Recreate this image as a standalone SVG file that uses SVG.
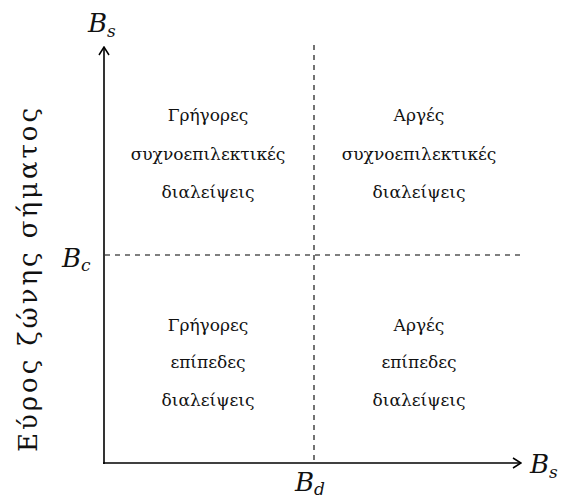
<svg xmlns="http://www.w3.org/2000/svg" width="565" height="500" viewBox="0 0 565 500">
  <style>
    .axis { stroke: #000; stroke-width: 1.6; fill: none; }
    .dash { stroke: #000; stroke-width: 1.1; stroke-dasharray: 5 5; fill: none; }
    text { font-family: 'DejaVu Serif', serif; fill: #111; }
    .lbl { font-size: 17px; text-anchor: middle; }
    .sym { font-style: italic; font-size: 26px; }
    .sub { font-size: 17px; }
    .ytitle { font-size: 26px; text-anchor: middle; }
  </style>
  <defs>
    <marker id="arrow" viewBox="0 0 10 12" refX="9" refY="6" markerWidth="10" markerHeight="12" markerUnits="userSpaceOnUse" orient="auto">
      <path d="M1,1 L9,6 L1,11" fill="none" stroke="#000" stroke-width="1.5"/>
    </marker>
  </defs>

  <!-- axes and threshold lines -->
  <g id="connectors">
    <line class="dash" x1="314" y1="45" x2="314" y2="462"/>
    <line class="dash" x1="105" y1="255" x2="525" y2="255"/>
    <line class="axis" x1="104" y1="464" x2="104" y2="47" marker-end="url(#arrow)"/>
    <line class="axis" x1="103" y1="463" x2="521" y2="463" marker-end="url(#arrow)"/>
  </g>

  <!-- axis symbols -->
  <g id="label-bs-top"><text class="sym" x="88" y="32">B<tspan class="sub" dy="5">s</tspan></text></g>
  <g id="label-bc"><text class="sym" x="62" y="267">B<tspan class="sub" dy="4">c</tspan></text></g>
  <g id="label-bd"><text class="sym" x="295" y="491">B<tspan class="sub" dy="4">d</tspan></text></g>
  <g id="label-bs-right"><text class="sym" x="530" y="473">B<tspan class="sub" dy="5">s</tspan></text></g>

  <!-- vertical axis title -->
  <g id="y-title"><text class="ytitle" transform="translate(37,280) rotate(-90)" textLength="344" lengthAdjust="spacing">Εύρος ζώνης σήματος</text></g>

  <!-- quadrants -->
  <g id="q-top-left">
    <text class="lbl" x="208" y="121">Γρήγορες</text>
    <text class="lbl" x="208" y="160">συχνοεπιλεκτικές</text>
    <text class="lbl" x="208" y="198">διαλείψεις</text>
  </g>
  <g id="q-top-right">
    <text class="lbl" x="419" y="121">Αργές</text>
    <text class="lbl" x="419" y="160">συχνοεπιλεκτικές</text>
    <text class="lbl" x="419" y="198">διαλείψεις</text>
  </g>
  <g id="q-bottom-left">
    <text class="lbl" x="208" y="331">Γρήγορες</text>
    <text class="lbl" x="208" y="368">επίπεδες</text>
    <text class="lbl" x="208" y="406">διαλείψεις</text>
  </g>
  <g id="q-bottom-right">
    <text class="lbl" x="419" y="331">Αργές</text>
    <text class="lbl" x="419" y="368">επίπεδες</text>
    <text class="lbl" x="419" y="406">διαλείψεις</text>
  </g>
</svg>
